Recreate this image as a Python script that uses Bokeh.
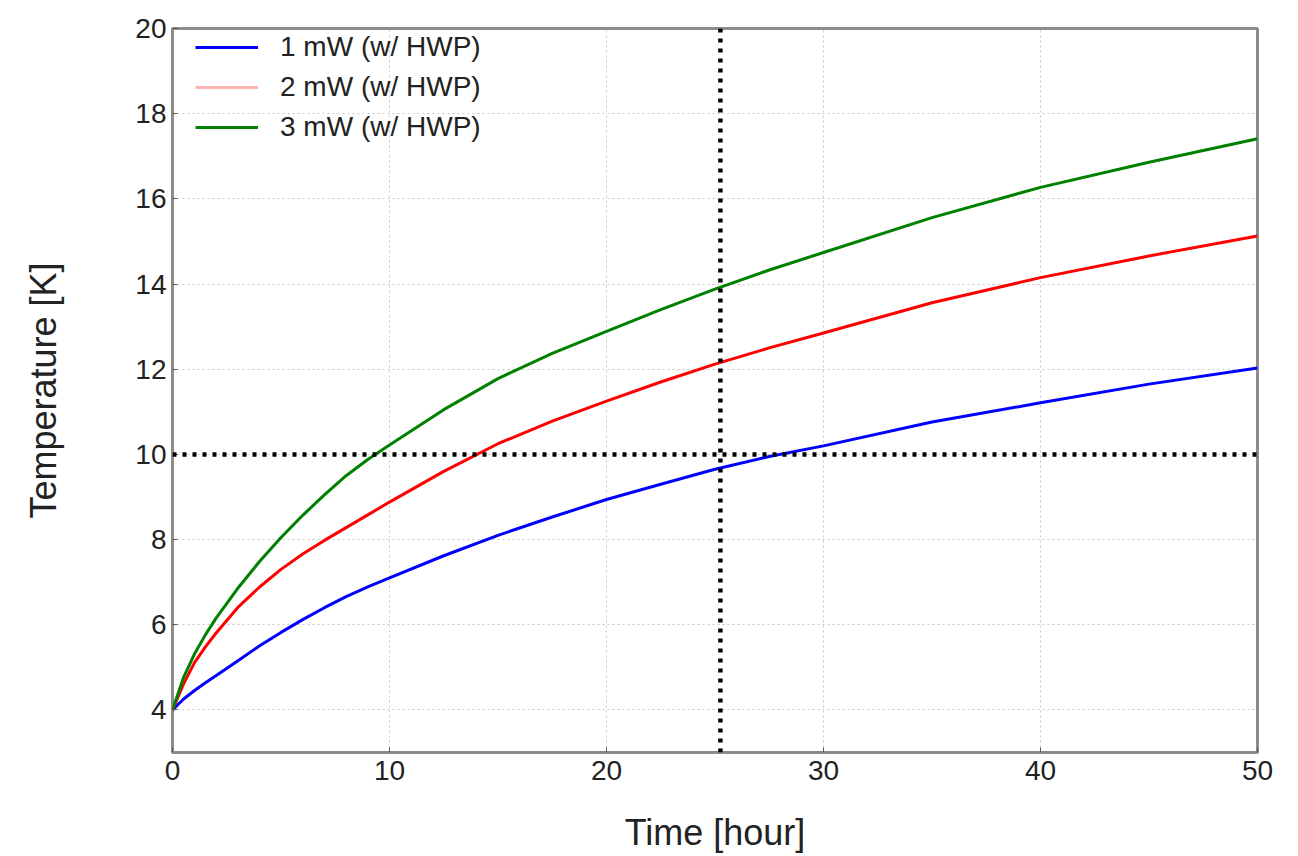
from bokeh.plotting import figure
from bokeh.models import Range1d, FixedTicker, Span, Legend, LegendItem, ColumnDataSource
from bokeh.embed import file_html
from bokeh.resources import INLINE

# ---- data ----
time_h = [0, 0.5, 1, 1.5, 2, 3, 4, 5, 6, 7, 8, 9, 10, 12.5, 15, 17.5, 20, 22.5, 25, 27.5, 30, 35, 40, 45, 50]
temp_1mw = [4.0, 4.25, 4.45, 4.63, 4.8, 5.15, 5.5, 5.82, 6.12, 6.4, 6.66, 6.89, 7.1, 7.62, 8.1, 8.53, 8.94,
            9.3, 9.65, 9.95, 10.2, 10.76, 11.21, 11.65, 12.03]
temp_2mw = [4.0, 4.6, 5.1, 5.47, 5.8, 6.4, 6.88, 7.3, 7.66, 7.98, 8.28, 8.58, 8.88, 9.6, 10.25, 10.78, 11.25,
            11.7, 12.12, 12.5, 12.85, 13.56, 14.15, 14.66, 15.13]
temp_3mw = [4.0, 4.75, 5.3, 5.75, 6.15, 6.85, 7.48, 8.05, 8.57, 9.05, 9.5, 9.88, 10.22, 11.05, 11.78, 12.37,
            12.89, 13.4, 13.88, 14.33, 14.74, 15.56, 16.27, 16.86, 17.41]
series_labels = ["1 mW (w/ HWP)", "2 mW (w/ HWP)", "3 mW (w/ HWP)"]
x_ticks = [0, 10, 20, 30, 40, 50]
y_ticks = [4, 6, 8, 10, 12, 14, 16, 18, 20]
ref_time = 25.25
ref_temp = 10

FONT = "Liberation Sans"

p = figure(width=1290, height=856, output_backend="svg", toolbar_location=None,
           x_range=Range1d(0, 50), y_range=Range1d(3, 20),
           min_border_left=172, min_border_right=33, min_border_top=28, min_border_bottom=104)

src = ColumnDataSource(dict(t=time_h, a=temp_1mw, b=temp_2mw, c=temp_3mw))
r1 = p.line("t", "a", source=src, line_color="#0000ff", line_width=3)
r2 = p.line("t", "b", source=src, line_color="#ff0000", line_width=3)
r3 = p.line("t", "c", source=src, line_color="#008000", line_width=3)

# legend proxy for the pale 2 mW legend line (single point -> draws nothing in the plot)
l2 = p.line(time_h[:1], temp_2mw[:1], line_color="#ffb3b3", line_width=3)

p.add_layout(Span(location=ref_temp, dimension="width", line_color="black",
                  line_width=4.5, line_dash="4 6"))
p.add_layout(Span(location=ref_time, dimension="height", line_color="black",
                  line_width=4.5, line_dash="4 6"))

legend = Legend(items=[LegendItem(label=series_labels[0], renderers=[r1]),
                       LegendItem(label=series_labels[1], renderers=[l2]),
                       LegendItem(label=series_labels[2], renderers=[r3])],
                location=(23, 605), margin=0, padding=0, spacing=0,
                glyph_width=63, glyph_height=40, label_height=40,
                label_standoff=22, label_text_font=FONT, label_text_font_size="28px",
                label_text_color="#222222", border_line_color=None,
                background_fill_alpha=0)
p.add_layout(legend)

p.xaxis.ticker = FixedTicker(ticks=x_ticks)
p.yaxis.ticker = FixedTicker(ticks=y_ticks)
for ax in (p.xaxis[0], p.yaxis[0]):
    ax.axis_line_color = None
    ax.major_tick_in = 5
    ax.major_tick_out = 0
    ax.major_tick_line_color = "#555555"
    ax.minor_tick_line_color = None
    ax.major_label_text_font = FONT
    ax.major_label_text_font_size = "28px"
    ax.major_label_text_color = "#222222"
    ax.axis_label_text_font = FONT
    ax.axis_label_text_font_size = "36px"
    ax.axis_label_text_font_style = "normal"
    ax.axis_label_text_color = "#222222"

p.xaxis.axis_label = "Time [hour]"
p.yaxis.axis_label = "Temperature [K]"
p.xaxis.major_label_standoff = 8
p.xaxis.axis_label_standoff = 29
p.yaxis.major_label_standoff = 6
p.yaxis.axis_label_standoff = 68

p.grid.grid_line_color = "#c8c8c8"
p.grid.grid_line_dash = "2 3"
p.grid.grid_line_width = 1

p.outline_line_color = "#8c8c8c"
p.outline_line_width = 3
p.background_fill_color = "white"
p.border_fill_color = "white"

open("out.html", "w").write(file_html(p, INLINE))
